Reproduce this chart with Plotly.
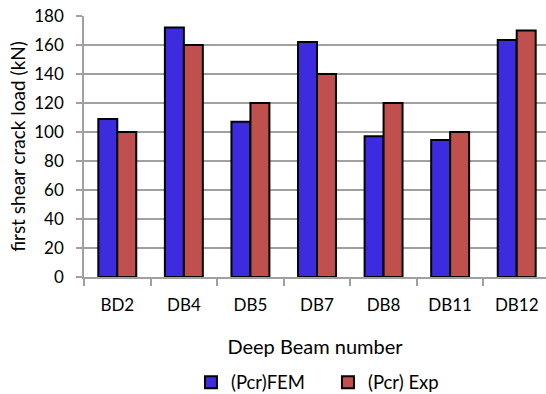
import plotly.graph_objects as go

# Deep beam specimens and first shear crack loads (kN)
beams = ["BD2", "DB4", "DB5", "DB7", "DB8", "DB11", "DB12"]
pcr_fem = [109, 172, 107, 162, 97, 94.5, 163.5]
pcr_exp = [100, 160, 120, 140, 120, 100, 170]
y_ticks = [0, 20, 40, 60, 80, 100, 120, 140, 160, 180]

font_family = "Lato, 'Open Sans', sans-serif"
axis_gray = "#A0A0A0"

fig = go.Figure()
fig.add_trace(go.Bar(
    x=beams, y=pcr_fem, name="(Pcr)FEM",
    marker=dict(color="#3D2BE0", line=dict(color="#000000", width=2)),
))
fig.add_trace(go.Bar(
    x=beams, y=pcr_exp, name="(Pcr) Exp",
    marker=dict(color="#C0504D", line=dict(color="#000000", width=2)),
))

fig.update_layout(
    width=546, height=394,
    margin=dict(l=84, r=0, t=16, b=117, autoexpand=False),
    paper_bgcolor="white", plot_bgcolor="white",
    barmode="group", bargap=0.43, bargroupgap=0,
    font=dict(family=font_family, size=17, color="#000000"),
    showlegend=True,
    legend=dict(
        orientation="h", x=0.2315, xanchor="left", y=-0.405, yanchor="middle",
        font=dict(size=18.5), itemwidth=30, traceorder="normal",
        entrywidth=92, entrywidthmode="pixels",
        bgcolor="rgba(0,0,0,0)",
    ),
)

fig.update_xaxes(
    type="category", range=[-0.5, 6.44],
    automargin=False,
    showline=True, linecolor=axis_gray, linewidth=1.5,
    ticks="outside", tickson="boundaries", ticklen=7, tickcolor=axis_gray, tickwidth=1.5,
    ticklabelstandoff=12,
    tickfont=dict(size=17),
    showgrid=False,
    title=dict(text="Deep Beam number", font=dict(size=20), standoff=26),
)
fig.update_yaxes(
    range=[0, 180], tickvals=y_ticks,
    automargin=False,
    showline=True, linecolor=axis_gray, linewidth=1.5,
    ticks="outside", ticklen=6, tickcolor=axis_gray, tickwidth=1.5,
    ticklabelstandoff=9,
    showgrid=True, gridcolor=axis_gray, gridwidth=1.5,
    zeroline=False,
    tickfont=dict(size=17),
    title=dict(text="first shear crack load (kN)", font=dict(size=19), standoff=4),
)

fig.write_html("out.html")
